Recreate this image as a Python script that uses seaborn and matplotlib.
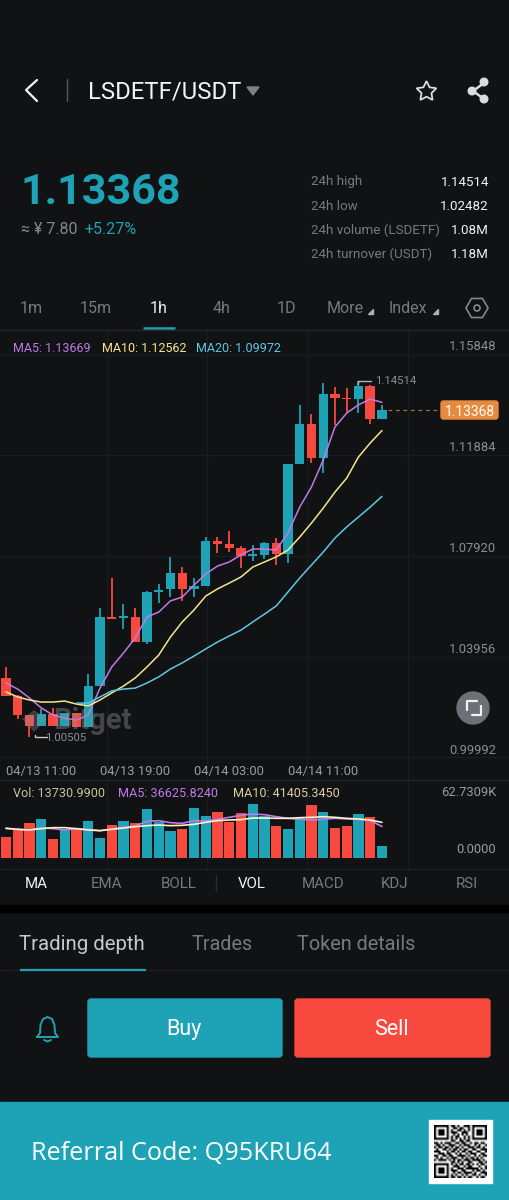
import numpy as np
import pandas as pd
import matplotlib
matplotlib.use("Agg")
import matplotlib.pyplot as plt
from matplotlib.patches import FancyBboxPatch, RegularPolygon, Circle, Rectangle, Polygon
import seaborn as sns

# candles
opens = [1.0283, 1.0212, 1.0137, 1.0094, 1.0141, 1.0094, 1.0145, 1.0090, 1.0251, 1.0523, 1.0519, 1.0523, 1.0424, 1.0621,
         1.0633, 1.0696, 1.0633, 1.0645, 1.0822, 1.0810, 1.0794, 1.0763, 1.0767, 1.0814, 1.0770, 1.1125, 1.1282, 1.1148,
         1.1400, 1.1384, 1.1380, 1.1431, 1.1302]
closes = [1.0212, 1.0137, 1.0094, 1.0141, 1.0094, 1.0145, 1.0090, 1.0251, 1.0523, 1.0515, 1.0523, 1.0424, 1.0621, 1.0629,
          1.0696, 1.0633, 1.0645, 1.0822, 1.0810, 1.0794, 1.0763, 1.0767, 1.0814, 1.0770, 1.1125, 1.1282, 1.1148, 1.1400,
          1.1384, 1.1380, 1.1431, 1.1302, 1.13368]
highs = [1.0326, 1.0216, 1.0137, 1.0161, 1.0165, 1.0145, 1.0145, 1.0298, 1.0558, 1.0676, 1.0574, 1.0558, 1.0625, 1.0652,
         1.0759, 1.0719, 1.0676, 1.0837, 1.0837, 1.0861, 1.0802, 1.0806, 1.0818, 1.0833, 1.1125, 1.1357, 1.1321, 1.1443,
         1.1427, 1.1424, 1.14514, 1.1435, 1.1357]
lows = [1.0212, 1.0121, 1.00505, 1.0094, 1.0094, 1.0094, 1.0090, 1.0090, 1.0251, 1.0515, 1.0475, 1.0424, 1.0416, 1.0578,
        1.0601, 1.0586, 1.0601, 1.0645, 1.0774, 1.0778, 1.0715, 1.0743, 1.0751, 1.0727, 1.0735, 1.1125, 1.1128, 1.1089,
        1.1278, 1.1329, 1.1325, 1.1282, 1.1302]

ma5 = [1.0263, 1.0239, 1.0204, 1.0165, 1.0137, 1.0125, 1.0117, 1.0137, 1.0243, 1.0326, 1.0381, 1.0440, 1.0523, 1.0542,
       1.0586, 1.0601, 1.0648, 1.0692, 1.0723, 1.0739, 1.0767, 1.0790, 1.0790, 1.0786, 1.0853, 1.0955, 1.1034, 1.1140,
       1.1270, 1.1325, 1.1357, 1.1380, 1.13669]
ma10 = [1.0228, 1.0208, 1.0196, 1.0188, 1.0188, 1.0192, 1.0180, 1.0173, 1.0196, 1.0224, 1.0251, 1.0283, 1.0326, 1.0373,
        1.0444, 1.0503, 1.0550, 1.0605, 1.0633, 1.0656, 1.0680, 1.0719, 1.0739, 1.0759, 1.0786, 1.0837, 1.0892, 1.0951,
        1.1014, 1.1069, 1.1152, 1.1207, 1.12562]
ma20 = [np.nan] * 6 + [1.0184, 1.0184, 1.0208, 1.0232, 1.0239, 1.0243, 1.0263, 1.0287, 1.0318, 1.0342, 1.0369, 1.0397,
                       1.0424, 1.0448, 1.0471, 1.0503, 1.0534, 1.0566, 1.0621, 1.0676, 1.0727, 1.0778, 1.0833, 1.0877,
                       1.0916, 1.0955, 1.09972]

volume = [24400, 33700, 40700, 45300, 22100, 33700, 33700, 43000, 23200, 38300, 43000, 40700, 56900, 41800, 31400, 33700,
          58100, 48800, 53400, 41800, 52300, 62731, 48800, 37200, 33700, 46500, 61600, 53400, 34900, 37200, 51100, 47600,
          13731]
vol_up = [0, 0, 0, 1, 0, 1, 0, 1, 1, 0, 1, 0, 1, 1, 1, 0, 1, 1, 0, 0, 0, 1, 1, 0, 1, 1, 0, 1, 0, 0, 1, 0, 1]
vol_ma5 = [34470, 33310, 32530, 35240, 34080, 32530, 34080, 33310, 31760, 33690, 35630, 37180, 42600, 43380, 41050, 40280,
           43380, 42990, 44920, 47250, 49570, 51120, 50340, 48020, 46080, 44920, 44150, 44920, 46080, 45310, 44920, 43380,
           36625.8]
vol_ma10 = [34470, 33310, 32530, 34080, 35240, 35240, 34080, 32530, 31760, 33310, 34860, 36400, 37570, 38340, 37570, 37950,
            39110, 41440, 43380, 44150, 44540, 46470, 46470, 46080, 46080, 46860, 47250, 48020, 47250, 46080, 45310, 44150,
            41405.3]

price_ticks = [1.15848, 1.11884, 1.07920, 1.03956, 0.99992]
price_labels = ["1.15848", "1.11884", "1.07920", "1.03956", "0.99992"]
date_pos = [3, 11, 19, 27]
date_labels = ["04/13 11:00", "04/13 19:00", "04/14 03:00", "04/14 11:00"]
grid_prices = [1.15533, 1.11599, 1.07626, 1.03653, 0.99719]
grid_idx = [8.6, 17.1, 25.6, 34.2]

BG = "#111214"
TEAL = "#1ea3b6"
RED = "#f8493f"
PURPLE = "#c07ae8"
YELLOW = "#f6e58d"
BLUE = "#5cc8e6"
GREY = "#8b8d91"
LIGHT = "#9a9c9f"
GRID = "#1a1c1f"
FONT = "Roboto"

sns.set_theme(style="dark")
plt.rcParams["font.family"] = [FONT, "DejaVu Sans"]
plt.rcParams["axes.facecolor"] = "none"

fig = plt.figure(figsize=(5.1, 12), dpi=100, facecolor=BG)


def px_axes(left, top, right, bottom):
    return fig.add_axes([left / 510, 1 - bottom / 1200, (right - left) / 510, (bottom - top) / 1200])


df = pd.DataFrame({"i": np.arange(len(opens)), "open": opens, "close": closes, "high": highs, "low": lows,
                   "ma5": ma5, "ma10": ma10, "ma20": ma20, "vol": volume, "up": vol_up,
                   "vol_ma5": vol_ma5, "vol_ma10": vol_ma10})

# price panel
ax = px_axes(0, 331, 510, 780)
ax.set_xlim(-0.51, 42.9)
ax.set_ylim(0.98814, 1.16477)
ax.set_xticks(grid_idx)
ax.set_yticks(grid_prices)
ax.set_xticklabels([])
ax.set_yticklabels([])
ax.tick_params(length=0)
ax.grid(True, color=GRID, lw=1)
ax.set_axisbelow(True)
sns.despine(ax=ax, left=True, bottom=True)

colors = [TEAL if c >= o else RED for o, c in zip(opens, closes)]
ax.vlines(df.i, df.low, df.high, colors=colors, lw=1.3, zorder=2)
ax.bar(df.i, np.maximum(np.abs(df.close - df.open), 0.0006), bottom=df[["open", "close"]].min(axis=1),
       width=0.8, color=colors, linewidth=0, zorder=3)
sns.lineplot(data=df, x="i", y="ma5", color=PURPLE, lw=1.1, ax=ax, zorder=4)
sns.lineplot(data=df, x="i", y="ma10", color=YELLOW, lw=1.1, ax=ax, zorder=4)
sns.lineplot(data=df, x="i", y="ma20", color=BLUE, lw=1.1, ax=ax, zorder=4)
ax.set_xlabel("")
ax.set_ylabel("")

for p, lab in zip(price_ticks, price_labels):
    ax.text(0.9725, p, lab, transform=ax.get_yaxis_transform(), ha="right", va="center", fontsize=9.4, color=GREY)
for i, lab in zip(date_pos, date_labels):
    ax.text(i, 0.018, lab, transform=ax.get_xaxis_transform(), ha="center", va="center", fontsize=9.4, color=LIGHT)

# current price line and label
ax.plot([32.5, 37.3], [1.13368, 1.13368], color="#a8703f", lw=0.9, ls=(0, (3, 3)), zorder=2)

# high and low callouts
ax.plot([30, 30, 31.1], [1.1440, 1.14514, 1.14514], color="#b5b5b5", lw=1, zorder=5)
ax.text(31.4, 1.14514, "1.14514", fontsize=8.2, color=GREY, va="center", zorder=5)
ax.plot([2.5, 2.5, 3.5], [1.0060, 1.00505, 1.00505], color="#c9c9c9", lw=1, zorder=5)
ax.text(3.3, 1.0045, "1.00505", fontsize=8.2, color=GREY, va="center", zorder=5)

# volume panel
ax2 = px_axes(0, 780, 510, 870)
sns.barplot(data=df, x="i", y="vol", hue="up", palette={0: RED, 1: TEAL}, dodge=False, native_scale=True,
            width=0.88, legend=False, ax=ax2, zorder=2, saturation=1, linewidth=0)
sns.lineplot(data=df, x="i", y="vol_ma5", color=PURPLE, lw=1.2, ax=ax2, zorder=3)
sns.lineplot(data=df, x="i", y="vol_ma10", color="#fff3c8", lw=1.2, ax=ax2, zorder=3)
ax2.set_xlim(-0.51, 42.9)
ax2.set_ylim(-13940, 90613)
ax2.set_xticks(grid_idx)
ax2.set_yticks([])
ax2.set_xticklabels([])
ax2.tick_params(length=0)
ax2.grid(True, axis="x", color=GRID, lw=1)
ax2.set_axisbelow(True)
ax2.set_xlabel("")
ax2.set_ylabel("")
sns.despine(ax=ax2, left=True, bottom=True)
ax2.text(0.9725, 10455, "0.0000", transform=ax2.get_yaxis_transform(), ha="right", va="center", fontsize=9.4, color=LIGHT)
ax2.text(0.9725, 76000, "62.7309K", transform=ax2.get_yaxis_transform(), ha="right", va="center", fontsize=9.4, color=LIGHT)

# everything around the chart, in screen pixels
ui = fig.add_axes([0, 0, 1, 1], zorder=10)
ui.set_xlim(0, 510)
ui.set_ylim(1200, 0)
ui.axis("off")


def txt(x, y, s, size, color="#ffffff", ha="left", weight="normal", **kw):
    ui.text(x, y, s, fontsize=size, color=color, ha=ha, va="center_baseline", fontweight=weight, **kw)


def hline(y, x0=0, x1=510, color="#232528", lw=1):
    ui.plot([x0, x1], [y, y], color=color, lw=lw, solid_capstyle="butt")


# header
ui.plot([37, 26, 37], [80, 90, 101], color="#f2f2f2", lw=1.6)
ui.plot([67, 67], [79, 101], color="#55575a", lw=1)
txt(88, 90, "LSDETF/USDT", 17.2, "#f4f4f4")
ui.add_patch(Polygon([[247, 87], [259, 87], [253, 95]], color="#7f8184"))
ui.plot([426], [91], marker=(5, 1), ms=15, mfc="none", mec="#dcdcdc", mew=1.3)
for a, b in [((473, 91), (484, 83)), ((473, 91), (484, 99))]:
    ui.plot([a[0], b[0]], [a[1], b[1]], color="#dcdcdc", lw=1.8)
for c in [(472, 91), (484, 82), (484, 99)]:
    ui.add_patch(Circle(c, 3.8, color="#dcdcdc"))

# price block
txt(21, 188, "1.13368", 31, TEAL, weight="bold")
txt(21, 228, "≈ ¥ 7.80", 11.5, "#85878a")
txt(84, 228, "+5.27%", 11.5, TEAL)
stat_names = ["24h high", "24h low", "24h volume (LSDETF)", "24h turnover (USDT)"]
stat_vals = ["1.14514", "1.02482", "1.08M", "1.18M"]
for k, (n, v) in enumerate(zip(stat_names, stat_vals)):
    y = 180.5 + k * 24.2
    txt(311, y, n, 9.6, "#77797c")
    txt(489, y, v, 9.6, "#f2f2f2", ha="right")

# timeframe tabs
tabs = [("1m", 31), ("15m", 96), ("1h", 159), ("4h", 222), ("1D", 286)]
for s, x in tabs:
    txt(x, 307, s, 11.5, "#f2f2f2" if s == "1h" else "#77797c", ha="center")
txt(327, 307, "More", 11.5, "#77797c")
txt(389, 307, "Index", 11.5, "#77797c")
for x in [368, 433]:
    ui.add_patch(Polygon([[x, 313.5], [x + 5, 313.5], [x + 5, 308.5]], color="#b0b0b0"))
ui.plot([143, 175], [327.5, 327.5], color=TEAL, lw=1.8, solid_capstyle="butt")
ui.add_patch(RegularPolygon((477, 308), 6, radius=11, orientation=np.pi / 2, fill=False, ec="#85878a", lw=1.2))
ui.add_patch(Circle((477, 308), 3, fill=False, ec="#85878a", lw=1.2))
hline(330)

# MA legends
txt(13, 347, "MA5: 1.13669", 9, PURPLE)
txt(102, 347, "MA10: 1.12562", 9, YELLOW)
txt(196, 347, "MA20: 1.09972", 9, BLUE)
ui.add_patch(FancyBboxPatch((441, 401), 57, 18, boxstyle="round,pad=0,rounding_size=2.5", color="#e88a3e"))
txt(469.5, 410, "1.13368", 10, "#ffffff", ha="center")

# watermark
ui.add_patch(Polygon([[22, 719], [34, 710], [47, 719], [34, 732]], fc="#8b8d93", alpha=0.35, ec="none"))
txt(53, 718, "Bitget", 21, "#8b8d93", weight="bold", alpha=0.42)

# expand button
ui.add_patch(Circle((473, 708), 16, color="#6d7076"))
ui.plot([467, 467, 477], [710, 701, 701], color="#f0f0f0", lw=1.6)
ui.plot([472, 481, 481], [715, 715, 706], color="#f0f0f0", lw=1.6)

# volume legend
txt(13, 792, "Vol: 13730.9900", 9.1, "#c9c19a")
txt(118, 792, "MA5: 36625.8240", 9.1, PURPLE)
txt(233, 792, "MA10: 41405.3450", 9.1, "#d8cf9c")
hline(780)
hline(869, color="#1d1f22")

# indicator row
inds = [("MA", 36, True), ("EMA", 107, False), ("BOLL", 179, False), ("VOL", 252, True),
        ("MACD", 323, False), ("KDJ", 395, False), ("RSI", 467, False)]
for s, x, on in inds:
    txt(x, 883, s, 10.8, "#f2f2f2" if on else "#77797c", ha="center")
ui.plot([216, 216], [875, 891], color="#2a2c2f", lw=1)
ui.add_patch(Rectangle((0, 905), 510, 7, color="#000000"))

# lower tabs
txt(19, 942, "Trading depth", 14.7, "#c9c9c9")
txt(192, 942, "Trades", 14.2, "#77797c")
txt(297, 942, "Token details", 14.3, "#77797c")
hline(970, color="#1d1f22")
ui.plot([20, 146], [969.5, 969.5], color=TEAL, lw=1.6, solid_capstyle="butt")

# buttons
ui.add_patch(FancyBboxPatch((88, 999), 194, 58, boxstyle="round,pad=0,rounding_size=3", color=TEAL))
ui.add_patch(FancyBboxPatch((295, 999), 195, 58, boxstyle="round,pad=0,rounding_size=3", color=RED))
txt(184, 1027, "Buy", 15.5, "#ffffff", ha="center")
txt(391, 1027, "Sell", 15.5, "#ffffff", ha="center")
bell_x = [37, 40, 40.5, 43, 47.5, 52, 54.5, 55, 58, 37]
bell_y = [1037, 1033, 1025, 1019, 1017, 1019, 1025, 1033, 1037, 1037]
ui.plot(bell_x, bell_y, color=TEAL, lw=1.4)
ui.plot([44, 47.5, 51], [1040, 1041.5, 1040], color=TEAL, lw=1.4)

# referral banner
ui.add_patch(Rectangle((0, 1102), 510, 98, color=TEAL))
txt(31, 1151, "Referral Code: Q95KRU64", 18.2, "#ffffff", family="Open Sans")
ui.add_patch(Rectangle((429, 1120), 63, 63, color="#ffffff"))

qr_rows = [
    "1111111011010011101111111",
    "1000001001101100101000001",
    "1011101010011010101011101",
    "1011101011100111001011101",
    "1011101001010101001011101",
    "1000001010110010101000001",
    "1111111010101010101111111",
    "0000000011001101100000000",
    "1101011100110110010110110",
    "0110100111001011100101001",
    "1011011010110100111011010",
    "0100110101101011001100111",
    "1110001011010110110011001",
    "0011101100101001011100110",
    "1100110110011110100101011",
    "0101001011100101011010100",
    "1011110101011011101111010",
    "0000000011010100110001101",
    "1111111010101101101010110",
    "1000001001110010110001001",
    "1011101010011101111110101",
    "1011101011100110001011010",
    "1011101001011011110100111",
    "1000001010100101001101001",
    "1111111011011010110010110",
]
qr = np.array([[int(c) for c in r] for r in qr_rows])
qax = px_axes(434, 1125, 487, 1178)
qax.set_zorder(11)
qax.imshow(1 - qr, cmap="gray", vmin=0, vmax=1, interpolation="bilinear", aspect="auto")
qax.axis("off")

fig.savefig("out.png", dpi=100, facecolor=BG)
